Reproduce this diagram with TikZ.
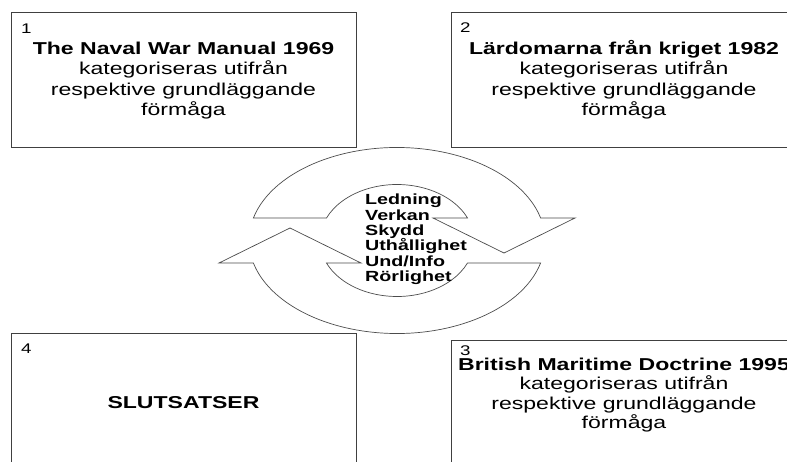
\documentclass[tikz,border=0pt]{standalone}
\usepackage{fontspec}
\setmainfont{Liberation Sans}[FakeStretch=1.34]

\begin{document}
\begin{tikzpicture}[x=1pt, y=1pt,
    boxframe/.style={draw=black!75, line width=0.7pt, minimum width=345pt,
      minimum height=135pt, inner sep=0pt},
    boxnum/.style={anchor=base west, inner sep=0pt, font=\fontsize{14}{16}\selectfont},
    boxhead/.style={anchor=base, inner sep=0pt, font=\fontsize{17.2}{20}\selectfont\bfseries},
    boxbody/.style={anchor=base, inner sep=0pt, font=\fontsize{17.2}{20}\selectfont},
    ability/.style={anchor=base west, inner sep=0pt, font=\fontsize{14.7}{15}\selectfont\bfseries},
    band/.style={draw=black!70, line width=0.7pt, fill=white}]
  \clip (0,0) rectangle (787,461);

  \node[boxframe] (box1) at (183.5,380.8) {};
  \node[boxframe] (box2) at (624,380.8) {};
  \node[boxframe, minimum height=140pt] (box4) at (183.5,57.7) {};
  \node[boxframe, minimum height=135pt] (box3) at (624,53.5) {};

  \node[boxnum]  (n1)  at (21,427.7)    {1};
  \node[boxhead] (t1)  at (183.5,406.5) {The Naval War Manual 1969};
  \node[boxbody] (t1a) at (183.5,386)   {kategoriseras utifrån};
  \node[boxbody] (t1b) at (183.5,365.5) {respektive grundläggande};
  \node[boxbody] (t1c) at (183.5,345.5) {förmåga};

  \node[boxnum]  (n2)  at (460,428.5)   {2};
  \node[boxhead] (t2)  at (624,406.5)   {Lärdomarna från kriget 1982};
  \node[boxbody] (t2a) at (624,386)     {kategoriseras utifrån};
  \node[boxbody] (t2b) at (624,365.5)   {respektive grundläggande};
  \node[boxbody] (t2c) at (624,345.5)   {förmåga};

  \node[boxnum]  (n3)  at (460,105.5)   {3};
  \node[boxhead] (t3)  at (624,91)      {British Maritime Doctrine 1995};
  \node[boxbody] (t3a) at (624,72)      {kategoriseras utifrån};
  \node[boxbody] (t3b) at (624,52)      {respektive grundläggande};
  \node[boxbody] (t3c) at (624,33)      {förmåga};

  \node[boxnum]  (n4)  at (21,107.7)    {4};
  \node[boxhead] (t4)  at (183.5,52.7)  {SLUTSATSER};

  \coordinate (ctr) at (397,220.5);
  \draw[band] (253.4,243) arc[start angle=166, end angle=14, x radius=148, y radius=93]
    -- (575,243) -- (504,208) -- (433,243) -- (467.5,243)
    arc[start angle=23.7, end angle=156.3, x radius=77, y radius=56] -- cycle;
  \draw[band] (540.6,198) arc[start angle=-14, end angle=-166, x radius=148, y radius=93]
    -- (219,198) -- (290,233) -- (361,198) -- (326.5,198)
    arc[start angle=-156.3, end angle=-23.7, x radius=77, y radius=56] -- cycle;

  \node[ability] (c1) at (365,256)   {Ledning};
  \node[ability] (c2) at (365,240.7) {Verkan};
  \node[ability] (c3) at (365,225.4) {Skydd};
  \node[ability] (c4) at (365,210.1) {Uthållighet};
  \node[ability] (c5) at (365,194.8) {Und/Info};
  \node[ability] (c6) at (365,179.5) {Rörlighet};
\end{tikzpicture}
\end{document}
